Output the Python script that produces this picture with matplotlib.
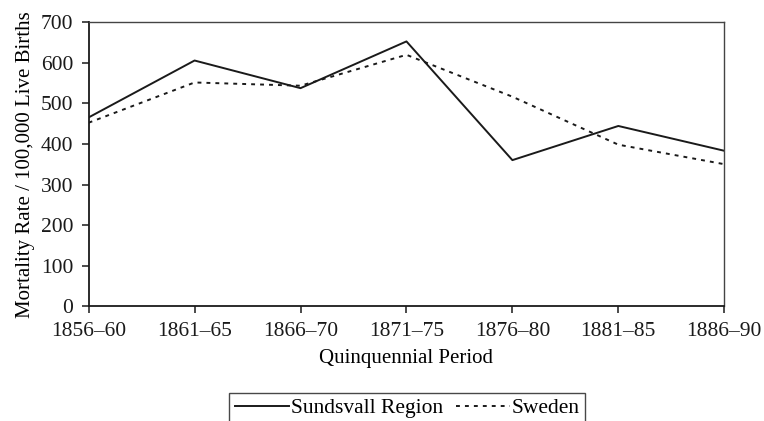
import matplotlib
matplotlib.use("Agg")
import matplotlib.pyplot as plt

# Data
periods = ["1856\u201360", "1861\u201365", "1866\u201370", "1871\u201375",
           "1876\u201380", "1881\u201385", "1886\u201390"]
sundsvall = [465, 605, 537, 652, 360, 444, 383]
sweden = [452, 551, 543, 619, 516, 398, 350]
y_ticks = [0, 100, 200, 300, 400, 500, 600, 700]

plt.rcParams['font.family'] = ['Liberation Serif', 'DejaVu Serif']
fs = 15.5

fig = plt.figure(figsize=(7.64, 4.21), dpi=100)
ax = fig.add_axes([0.116, 0.272, 0.832, 0.676])

x = list(range(len(periods)))
ax.plot(x, sundsvall, color='#1a1a1a', linewidth=1.4, label='Sundsvall Region')
ax.plot(x, sweden, color='#1a1a1a', linewidth=1.4, linestyle=(0, (2, 2.6)), label='Sweden')

ax.set_xlim(0, len(periods) - 1)
ax.set_ylim(0, 700)
ax.set_xticks(x)
ax.set_xticklabels(periods, fontsize=fs)
ax.set_yticks(y_ticks)
ax.set_yticklabels([str(v) for v in y_ticks], fontsize=fs)
ax.tick_params(direction='out', length=5, width=1.1, colors='#1a1a1a')
ax.tick_params(axis='x', pad=6)
ax.tick_params(axis='y', pad=6)

for side in ['left', 'bottom']:
    ax.spines[side].set_linewidth(1.3)
    ax.spines[side].set_color('#1a1a1a')
for side in ['top', 'right']:
    ax.spines[side].set_linewidth(1.0)
    ax.spines[side].set_color('#444444')

ax.set_xlabel("Quinquennial Period", fontsize=15, labelpad=6)
ax.set_ylabel("Mortality Rate / 100,000 Live Births", fontsize=15, labelpad=4)

leg = fig.legend(loc='upper center', bbox_to_anchor=(0.533, 0.0665), ncol=2,
                 fontsize=fs, frameon=True, fancybox=False, edgecolor='#1a1a1a',
                 handlelength=2.5, handletextpad=0.1, columnspacing=0.6,
                 borderpad=0.25, borderaxespad=0)
leg.get_frame().set_linewidth(1.0)

fig.savefig("out.png", dpi=100)
